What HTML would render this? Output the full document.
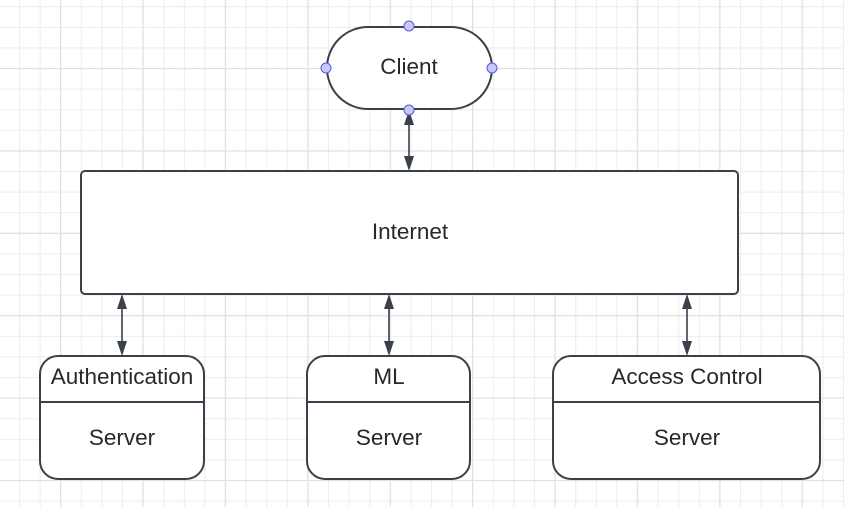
<!DOCTYPE html>
<html><head><meta charset="utf-8"><style>
html,body{margin:0;padding:0;background:#fff;}
svg{display:block;}
text{font-family:"Liberation Sans",Arial,sans-serif;fill:#282828;}
</style></head><body>
<svg width="844" height="507" viewBox="0 0 844 507" xmlns="http://www.w3.org/2000/svg">
<defs>
<pattern id="g" x="-1.6" y="6.2" width="20.6" height="20.6" patternUnits="userSpaceOnUse">
<path d="M0.5 0V20.6M0 0.5H20.6" stroke="#ededed" stroke-width="1.2" fill="none"/>
</pattern>
<pattern id="G" x="60" y="68" width="82.4" height="82.4" patternUnits="userSpaceOnUse">
<path d="M0.5 0V82.4M0 0.5H82.4" stroke="#e0e0e0" stroke-width="1.3" fill="none"/>
</pattern>
</defs>
<rect width="844" height="507" fill="#fff"/>
<rect width="844" height="507" fill="url(#g)"/>
<rect width="844" height="507" fill="url(#G)"/>

<g stroke="#3a414a" stroke-width="2" fill="#fff">
<rect x="327" y="27" width="165" height="82" rx="41" ry="41"/>
<rect x="81" y="171" width="657" height="123" rx="4"/>
<rect x="40" y="356" width="164" height="123" rx="18"/>
<rect x="307" y="356" width="163" height="123" rx="18"/>
<rect x="553" y="356" width="267" height="123" rx="18"/>
<line x1="40" y1="402" x2="204" y2="402"/>
<line x1="307" y1="402" x2="470" y2="402"/>
<line x1="553" y1="402" x2="820" y2="402"/>
</g>

<g stroke="#3a414a" stroke-width="1.6">
<line x1="409" y1="118" x2="409" y2="162"/>
<line x1="122" y1="302" x2="122" y2="348"/>
<line x1="389" y1="302" x2="389" y2="348"/>
<line x1="687" y1="302" x2="687" y2="348"/>
</g>
<g fill="#3a414a">
<path d="M409 110l-5 15h10z"/><path d="M409 171l-5 -15h10z"/>
<path d="M122 294l-5 15h10z"/><path d="M122 356l-5 -15h10z"/>
<path d="M389 294l-5 15h10z"/><path d="M389 356l-5 -15h10z"/>
<path d="M687 294l-5 15h10z"/><path d="M687 356l-5 -15h10z"/>
</g>

<g fill="#c8c8fa" stroke="#5a5ad8" stroke-width="1">
<circle cx="409" cy="26" r="5"/>
<circle cx="409" cy="110" r="5"/>
<circle cx="326" cy="68" r="5"/>
<circle cx="492" cy="68" r="5"/>
</g>

<g font-size="22.5" text-anchor="middle">
<text x="409" y="74">Client</text>
<text x="410" y="239">Internet</text>
<text x="122" y="384">Authentication</text>
<text x="122" y="445">Server</text>
<text x="389" y="384">ML</text>
<text x="389" y="445">Server</text>
<text x="687" y="384">Access Control</text>
<text x="687" y="445">Server</text>
</g>
</svg>
</body></html>
